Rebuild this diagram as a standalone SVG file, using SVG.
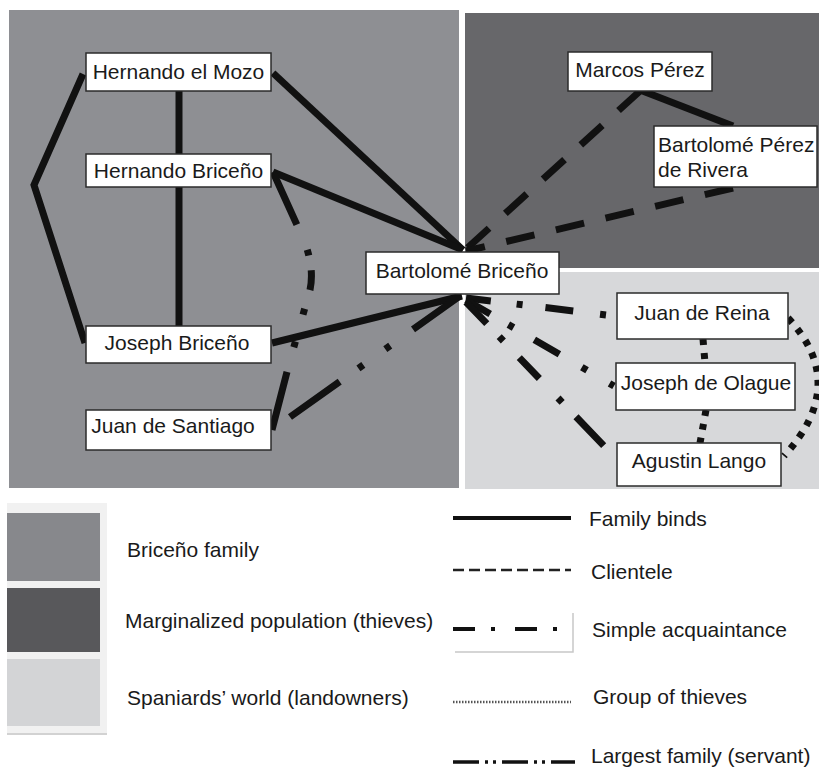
<svg xmlns="http://www.w3.org/2000/svg" width="819" height="769" viewBox="0 0 819 769">
<style>
.node rect{fill:#ffffff;stroke:#2b2b2b;stroke-width:1.5}
text{font-family:"Liberation Sans",Arial,sans-serif;font-size:21px;fill:#1a1a1a}
.c{text-anchor:middle}
.line{fill:none;stroke:#111;stroke-linecap:butt}
.fam{stroke-width:7}
.cli{stroke-width:7;stroke-dasharray:29 22}
.thf{stroke-width:7;stroke-dasharray:6 8}
.acq{stroke-width:7}
</style>
<rect width="819" height="769" fill="#ffffff"/>
<g id="panels">
<rect x="9" y="10" width="450" height="478" fill="#8e8f93"/>
<rect x="465" y="13" width="354" height="255" fill="#67676a"/>
<rect x="465" y="272" width="354" height="217" fill="#d7d8da"/>
</g>
<g id="connectors">
<line class="line fam" x1="179" y1="91" x2="179" y2="154"/>
<line class="line fam" x1="179" y1="187" x2="179" y2="326"/>
<polyline class="line fam" points="83,74 34,185 85,343"/>
<line class="line fam" x1="273" y1="73" x2="463" y2="250"/>
<line class="line fam" x1="273" y1="172" x2="463" y2="250"/>
<line class="line fam" x1="272" y1="343" x2="462" y2="296"/>
<line class="line fam" x1="640" y1="90" x2="733" y2="126"/>
<line class="line cli" x1="640" y1="91" x2="464" y2="251"/>
<line class="line cli" x1="733" y1="188" x2="466" y2="251"/>
<path class="line acq" d="M272,430 L288,368 Q300,325 310,290 Q316,262 297,225 L273,172" stroke-dasharray="60 25 6 28 6 20 20 15 6 27 80"/>
<line class="line acq" x1="290" y1="417" x2="460" y2="296" stroke-dasharray="61 23 6 27 6 28 70"/>
<line class="line acq" x1="466" y1="298" x2="615" y2="316" stroke-dasharray="25 26 6 23 28 27 6 20"/>
<line class="line acq" x1="466" y1="300" x2="614" y2="386" stroke-dasharray="28 21 6 24 29 26 6 26 6"/>
<line class="line acq" x1="466" y1="302" x2="604" y2="446" stroke-dasharray="30 18 6 23 29 27 6 20 40"/>
<line class="line thf" x1="703" y1="339" x2="705" y2="363"/>
<line class="line thf" x1="706" y1="410" x2="700" y2="443"/>
<path class="line thf" d="M788,318 Q850,384 784,456"/>
</g>
<g id="n_mozo" class="node"><rect x="86" y="53" width="185" height="38"/><text class="c" x="178.5" y="79">Hernando el Mozo</text></g>
<g id="n_hernando" class="node"><rect x="86" y="154" width="185" height="33"/><text class="c" x="178.5" y="178">Hernando Briceño</text></g>
<g id="n_joseph" class="node"><rect x="86" y="326" width="185" height="37"/><text class="c" x="177" y="350">Joseph Briceño</text></g>
<g id="n_santiago" class="node"><rect x="86" y="410" width="185" height="40"/><text class="c" x="173" y="433">Juan de Santiago</text></g>
<g id="n_bartolome" class="node"><rect x="366" y="252" width="193" height="42"/><text class="c" x="462" y="278">Bartolomé Briceño</text></g>
<g id="n_marcos" class="node"><rect x="568" y="52" width="144" height="39"/><text class="c" x="640" y="77">Marcos Pérez</text></g>
<g id="n_rivera" class="node"><rect x="654" y="126" width="163" height="61"/><text x="658" y="152">Bartolomé Pérez</text><text x="658" y="177">de Rivera</text></g>
<g id="n_reina" class="node"><rect x="617" y="293" width="171" height="46"/><text class="c" x="702" y="320">Juan de Reina</text></g>
<g id="n_olague" class="node"><rect x="616" y="363" width="179" height="47"/><text class="c" x="706" y="390">Joseph de Olague</text></g>
<g id="n_lango" class="node"><rect x="617" y="443" width="164" height="43"/><text class="c" x="699" y="468">Agustin Lango</text></g>
<g id="legend">
<rect x="7" y="503" width="100" height="232" fill="#f1f1f1"/>
<line x1="7" y1="734" x2="107" y2="734" stroke="#d2d2d2" stroke-width="2"/>
<rect x="7" y="513" width="93" height="68" fill="#87888c"/>
<rect x="7" y="588" width="93" height="64" fill="#58585b"/>
<rect x="7" y="659" width="93" height="67" fill="#d3d4d6"/>
<text x="127" y="557">Briceño family</text>
<text x="125" y="628">Marginalized population (thieves)</text>
<text x="127" y="705">Spaniards’ world (landowners)</text>
<line x1="453" y1="518" x2="571" y2="518" stroke="#111" stroke-width="4"/>
<text x="589" y="526">Family binds</text>
<line x1="453" y1="570" x2="571" y2="570" stroke="#222" stroke-width="2.5" stroke-dasharray="11 5"/>
<text x="591" y="579">Clientele</text>
<line x1="453" y1="629" x2="560" y2="629" stroke="#111" stroke-width="4" stroke-dasharray="22 16 4 20"/>
<polyline points="573,613 573,652 455,652" fill="none" stroke="#c8c8c8" stroke-width="1.5"/>
<text x="592" y="637">Simple acquaintance</text>
<line x1="453" y1="702" x2="571" y2="702" stroke="#555" stroke-width="2.5" stroke-dasharray="1.5 1.5"/>
<text x="593" y="704">Group of thieves</text>
<line x1="453" y1="762" x2="575" y2="762" stroke="#111" stroke-width="3.5" stroke-dasharray="26 6 3 5 3 6"/>
<text x="591" y="763">Largest family (servant)</text>
</g>
</svg>
